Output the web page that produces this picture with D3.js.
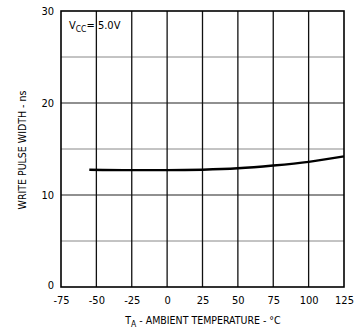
<!DOCTYPE html>
<html><head><meta charset="utf-8">
<script src="https://cdn.jsdelivr.net/npm/d3@7"></script>
<style>
body{margin:0;background:#fff;}
text{font-family:"DejaVu Sans Condensed","DejaVu Sans",sans-serif;fill:#000;}
</style></head>
<body><svg id="c" width="360" height="331"></svg>
<script>
const temps = [-55, -25, 0, 25, 50, 75, 100, 125];
const widths = [12.75, 12.7, 12.7, 12.75, 12.9, 13.2, 13.6, 14.2];
const xTicks = [-75, -50, -25, 0, 25, 50, 75, 100, 125];
const yTicks = [0, 10, 20, 30];
const yGrid = [5, 10, 15, 20, 25];

const svg = d3.select("#c");
const m = {l: 61, r: 344, t: 11, b: 287};
const x = d3.scaleLinear().domain([-75, 125]).range([m.l, m.r]);
const y = d3.scaleLinear().domain([0, 30]).range([m.b, m.t]);
const fmt = d => String(d);

// horizontal grid
svg.selectAll("line.hg").data(yGrid).enter().append("line")
  .attr("x1", m.l).attr("x2", m.r)
  .attr("y1", d => y(d)).attr("y2", d => y(d))
  .attr("stroke", d => d % 10 === 0 ? "#222" : "#888")
  .attr("stroke-width", d => d % 10 === 0 ? 1.1 : 1);

// vertical grid
svg.selectAll("line.vg").data(xTicks.slice(1, -1)).enter().append("line")
  .attr("x1", d => x(d)).attr("x2", d => x(d))
  .attr("y1", m.t).attr("y2", m.b)
  .attr("stroke", "#111").attr("stroke-width", 1.3);

// frame
svg.append("rect").attr("x", m.l).attr("y", m.t)
  .attr("width", m.r - m.l).attr("height", m.b - m.t)
  .attr("fill", "none").attr("stroke", "#000").attr("stroke-width", 1.6);

const ff = '"DejaVu Sans Condensed","DejaVu Sans",sans-serif';
const xAxis = d3.axisBottom(x).tickValues(xTicks).tickFormat(fmt).tickSize(0).tickPadding(9);
svg.append("g").attr("transform", `translate(0,${m.b})`).call(xAxis)
  .call(g => g.select(".domain").remove())
  .selectAll("text").attr("font-size", 11).style("font-family", ff).attr("fill", "#000");

const yAxis = d3.axisLeft(y).tickValues(yTicks).tickFormat(fmt).tickSize(0).tickPadding(7);
svg.append("g").attr("transform", `translate(${m.l},0)`).call(yAxis)
  .call(g => g.select(".domain").remove())
  .selectAll("text").attr("font-size", 11).style("font-family", ff).attr("fill", "#000")
  .attr("dy", d => d === 0 ? "0.1em" : "0.32em");

// curve
const line = d3.line().x((d, i) => x(temps[i])).y(d => y(d)).curve(d3.curveMonotoneX);
svg.append("path").datum(widths).attr("d", line)
  .attr("fill", "none").attr("stroke", "#000").attr("stroke-width", 2.4);

// y title
svg.append("text").attr("transform", "translate(26,150) rotate(-90)")
  .attr("text-anchor", "middle").attr("font-size", 10.5).text("WRITE PULSE WIDTH - ns");

// x title
const xt = svg.append("text").attr("x", 203).attr("y", 324).attr("text-anchor", "middle").attr("font-size", 10.5);
xt.append("tspan").text("T");
xt.append("tspan").attr("dy", 3).attr("font-size", 8.5).text("A");
xt.append("tspan").attr("dy", -3).text(" - AMBIENT TEMPERATURE - °C");

// annotation
const an = svg.append("text").attr("x", 69).attr("y", 29).attr("font-size", 11);
an.append("tspan").text("V");
an.append("tspan").attr("dy", 3).attr("font-size", 8.5).text("CC");
an.append("tspan").attr("dy", -3).text("= 5.0V");
</script></body></html>
